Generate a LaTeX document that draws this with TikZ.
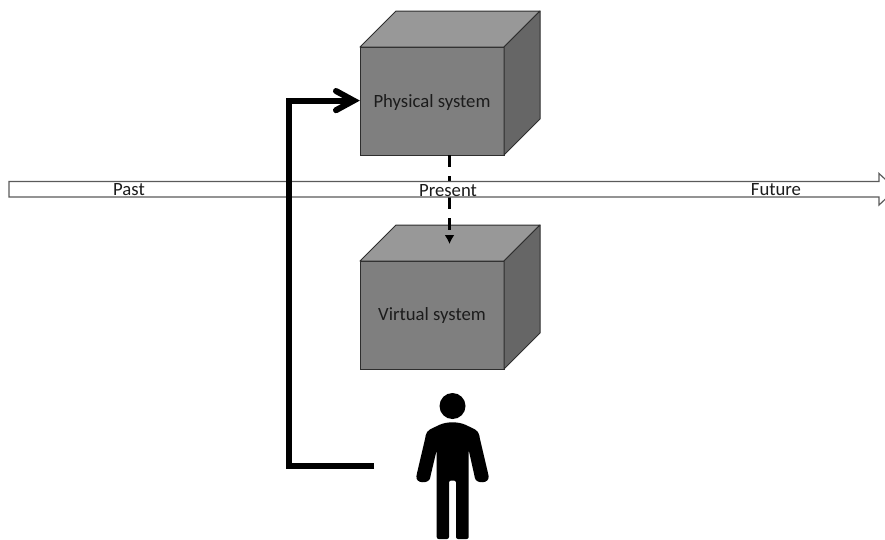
\documentclass[tikz,border=0pt]{standalone}
\usepackage{fontspec}
\setmainfont{Carlito}
\usetikzlibrary{arrows.meta}
\definecolor{frontgray}{HTML}{7F7F7F}
\definecolor{topgray}{HTML}{989898}
\definecolor{sidegray}{HTML}{666666}
\definecolor{edgegray}{HTML}{2E2E2E}
\definecolor{bandline}{HTML}{5A5A5A}
\definecolor{labelink}{HTML}{1C1C1C}
\tikzset{
  cubefront/.style={draw=edgegray,fill=frontgray,line width=1pt,minimum width=144pt,minimum height=108pt,inner sep=0pt,outer sep=0pt,text=labelink,font=\fontsize{18.7}{22}\selectfont},
  cubetop/.style={draw=edgegray,fill=topgray,line width=1pt,line join=round},
  cubeside/.style={draw=edgegray,fill=sidegray,line width=1pt,line join=round},
  timelabel/.style={inner sep=0pt,text=labelink,font=\fontsize{18.7}{22}\selectfont,anchor=base},
  band/.style={draw=bandline,fill=white,line width=1.2pt,line join=miter},
  thickline/.style={line width=6pt,line join=miter},
  barbline/.style={line width=6pt,line join=miter,miter limit=10,line cap=round},
  dashedarrow/.style={line width=3pt,dash pattern=on 12pt off 9pt,-{Latex[length=9pt,width=10pt,black]}},
}
\newcommand{\cubefaces}[1]{%
  \path[cubetop] (#1.north west) -- ++(36,-36) -- ++(144,0) -- (#1.north east) -- cycle;
  \path[cubeside] (#1.north east) -- ++(36,-36) -- ++(0,108) -- (#1.south east) -- cycle;
}
\begin{document}
\begin{tikzpicture}[x=1pt,y=-1pt]
\useasboundingbox (0,0) rectangle (885,539);
\clip (0,0) rectangle (885,539);
% cubes
\node[cubefront] (phys) at (432,101) {\raisebox{-6pt}[0pt][0pt]{Physical system}};
\cubefaces{phys}
\node[cubefront] (virt) at (432,315) {\raisebox{-5pt}[0pt][0pt]{Virtual system}};
\cubefaces{virt}
% dashed link, passes behind the time band
\coordinate (linkstart) at (449.5,155);
\coordinate (linkend) at (449.5,244);
\draw[dashedarrow] (linkstart) -- (linkend);
% time band
\path[band] (9,181.5) -- (879,181.5) -- (879,173.5) -- (896,189.2) -- (879,205) -- (879,197) -- (9,197) -- cycle;
\node[timelabel] (past) at (129,195) {Past};
\node[timelabel] (present) at (448,196) {Present};
\node[timelabel] (future) at (776,195) {Future};
% person
\fill[black] (452.5,406) circle (13);
\fill[black,rounded corners=2pt] (436.7,539) -- (436.7,480.5) -- (436.7,450) -- (430.5,476) .. controls (429,484) and (415,484) .. (416.8,474) -- (425.5,437) .. controls (426.5,430) and (433,428) .. (438,425.5) .. controls (447,421.5) and (458,421.5) .. (467,425.5) .. controls (472,428) and (478.5,430) .. (479.5,437) -- (488.2,474) .. controls (490,484) and (476,484) .. (474.5,476) -- (468.7,450) -- (468.7,539) -- (456,539) -- (456,480.5) -- (449,480.5) -- (449,539) -- cycle;
% feedback arrow
\coordinate (personhand) at (374,466);
\coordinate (tipvertex) at (353.6,100.6);
\draw[thickline] (personhand) -- (288.7,466) -- (288.7,100.6) -- (tipvertex);
\draw[barbline] (336,91) -- (tipvertex) -- (336,110.2);
\end{tikzpicture}
\end{document}
